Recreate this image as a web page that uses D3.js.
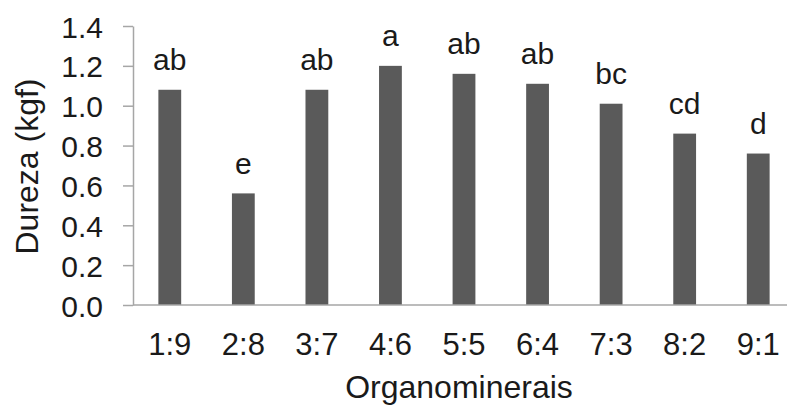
<!DOCTYPE html>
<html>
<head>
<meta charset="utf-8">
<script src="https://cdn.jsdelivr.net/npm/d3@7"></script>
<style>
  html, body { margin: 0; padding: 0; background: #fff; }
  svg { display: block; }
  text { font-family: "Liberation Sans", Arial, sans-serif; fill: #1a1a1a; }
</style>
</head>
<body>
<svg id="chart" width="787" height="406"></svg>
<script>
// Hardness of organomineral granules by mixing ratio
const categories = ["1:9", "2:8", "3:7", "4:6", "5:5", "6:4", "7:3", "8:2", "9:1"];
const hardness = [1.08, 0.56, 1.08, 1.20, 1.16, 1.11, 1.01, 0.86, 0.76];
const letters = ["ab", "e", "ab", "a", "ab", "ab", "bc", "cd", "d"];
const yTicks = [0, 0.2, 0.4, 0.6, 0.8, 1.0, 1.2, 1.4];

const svg = d3.select("#chart");
const plotLeft = 133, plotRight = 795, plotTop = 26, plotBottom = 305;

const x = d3.scaleBand()
  .domain(categories)
  .range([plotLeft, plotRight])
  .paddingInner(0.69)
  .paddingOuter(0.345);

const y = d3.scaleLinear().domain([0, 1.4]).range([plotBottom, plotTop]);

// value axis
const yAxis = svg.append("g")
  .attr("transform", `translate(${plotLeft},0)`)
  .call(d3.axisLeft(y).tickValues(yTicks).tickFormat(d3.format(".1f")).tickSize(10).tickSizeOuter(0).tickPadding(20));
yAxis.select(".domain").attr("stroke", "#a6a6a6").attr("stroke-width", 1.5);
yAxis.selectAll(".tick line").attr("stroke", "#a6a6a6").attr("stroke-width", 1.5);
yAxis.selectAll(".tick text")
  .attr("font-size", 30)
  .attr("dy", null)
  .attr("y", 11)
  .attr("font-family", "Liberation Sans, Arial, sans-serif")
  .attr("fill", "#1a1a1a");

// bars
svg.append("g").selectAll("rect")
  .data(categories)
  .join("rect")
  .attr("x", (d) => x(d))
  .attr("width", x.bandwidth())
  .attr("y", (d, i) => y(hardness[i]))
  .attr("height", (d, i) => plotBottom - y(hardness[i]))
  .attr("fill", "#5a5a5a");

// category axis
const xAxis = svg.append("g")
  .attr("transform", `translate(0,${plotBottom})`)
  .call(d3.axisBottom(x).tickSize(0).tickPadding(0));
xAxis.select(".domain").attr("d", `M${plotLeft},0H787`).attr("stroke", "#a6a6a6").attr("stroke-width", 1.5);
xAxis.selectAll(".tick text")
  .attr("font-size", 31)
  .attr("dy", null)
  .attr("y", 50)
  .attr("font-family", "Liberation Sans, Arial, sans-serif")
  .attr("fill", "#1a1a1a");

// significance letters above bars
svg.append("g").selectAll("text")
  .data(categories)
  .join("text")
  .attr("x", (d) => x(d) + x.bandwidth() / 2)
  .attr("y", (d, i) => y(hardness[i]) - 19.5)
  .attr("text-anchor", "middle")
  .attr("font-size", 30)
  .text((d, i) => letters[i]);

// axis titles
svg.append("text")
  .attr("x", 459)
  .attr("y", 398)
  .attr("text-anchor", "middle")
  .attr("font-size", 32)
  .text("Organominerais");

svg.append("text")
  .attr("transform", "translate(38,166.5) rotate(-90)")
  .attr("text-anchor", "middle")
  .attr("font-size", 32)
  .text("Dureza (kgf)");
</script>
</body>
</html>
